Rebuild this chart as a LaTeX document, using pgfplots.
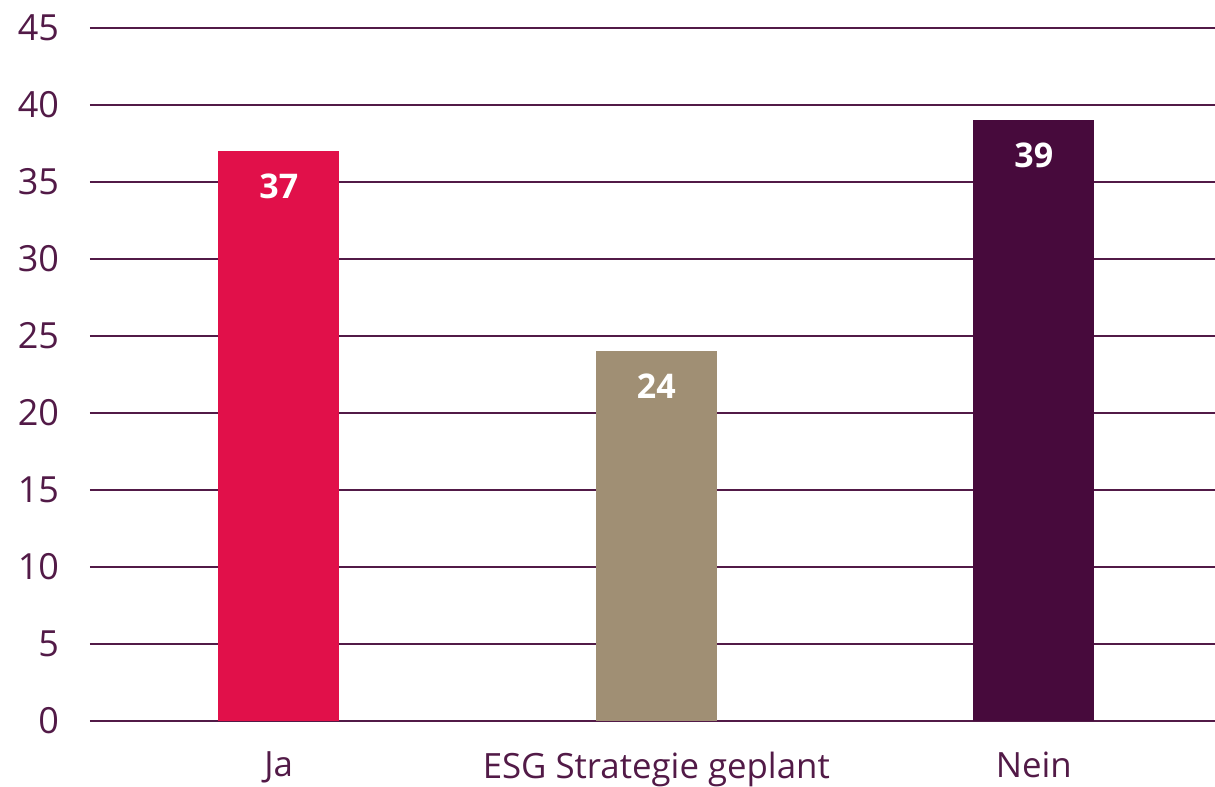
\documentclass[border=0pt]{standalone}
\usepackage{fontspec}
\setmainfont{Open Sans}
\usepackage{pgfplots}
\pgfplotsset{compat=1.18}

\definecolor{jared}{HTML}{E1104A}
\definecolor{esgbeige}{HTML}{A08F74}
\definecolor{neinpurple}{HTML}{470A3C}
\definecolor{gridpurple}{HTML}{521A47}

\begin{document}
\begin{tikzpicture}
\begin{axis}[
    name=ax,
    scale only axis,
    width=562.5pt, height=346.5pt,
    xmin=-0.5, xmax=2.48,
    ymin=0, ymax=45,
    ytick={0,5,...,45},
    xtick={0,1,2},
    xticklabels={Ja, ESG Strategie geplant, Nein},
    axis line style={draw=none},
    major tick length=0pt,
    ymajorgrids,
    grid style={gridpurple, line width=1pt},
    /pgf/number format/assume math mode=true,
    yticklabel style={font=\fontsize{18}{20}\selectfont, text=gridpurple, anchor=east, xshift=-12pt},
    xticklabel style={font=\fontsize{17.4}{19}\selectfont, text=gridpurple, yshift=-12pt},
    ybar, bar width=0.32, bar shift=0pt,
    nodes near coords,
    every node near coord/.append style={font=\fontsize{17}{19}\selectfont\bfseries, text=white, anchor=center, yshift=-17.5pt},
    clip=false,
]
\addplot[fill=jared, draw=none] coordinates {(0,37)};
\addplot[fill=esgbeige, draw=none] coordinates {(1,24)};
\addplot[fill=neinpurple, draw=none] coordinates {(2,39)};
\end{axis}
\pgfresetboundingbox
\path (ax.south west) ++(-45pt,-33pt) coordinate (bl);
\path (ax.north east) ++(0pt,14pt) coordinate (tr);
\useasboundingbox (bl) rectangle (tr);
\end{tikzpicture}
\end{document}
